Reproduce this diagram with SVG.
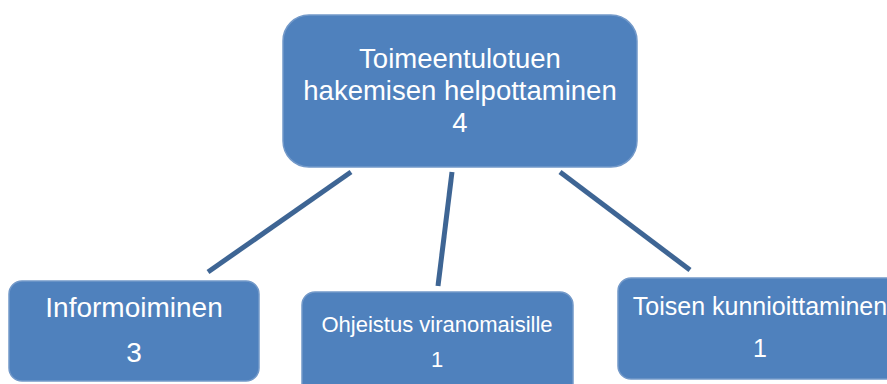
<svg xmlns="http://www.w3.org/2000/svg" width="887" height="384" viewBox="0 0 887 384">
<style>
.box{fill:#4F81BD;stroke:#7399C9;stroke-width:1.5}
.t{fill:#FFFFFF;font-family:"Liberation Sans",Arial,sans-serif;text-anchor:middle}
.c{stroke:#3E6594;stroke-width:5;fill:none}
</style>
<rect width="887" height="384" fill="#FFFFFF"/>
<g id="connectors">
<line class="c" x1="351" y1="172" x2="208" y2="272"/>
<line class="c" x1="452" y1="172" x2="438" y2="286"/>
<line class="c" x1="560" y1="172" x2="690" y2="270"/>
</g>
<g id="root">
<rect class="box" x="283" y="15" width="354" height="152" rx="26" ry="26"/>
<text class="t" x="460" y="68" font-size="27.5">Toimeentulotuen</text>
<text class="t" x="460" y="100" font-size="27.5">hakemisen helpottaminen</text>
<text class="t" x="460" y="132" font-size="27.5">4</text>
</g>
<g id="informoiminen">
<rect class="box" x="9" y="281" width="250" height="100" rx="13" ry="13"/>
<text class="t" x="134" y="317" font-size="28">Informoiminen</text>
<text class="t" x="134" y="362" font-size="28">3</text>
</g>
<g id="ohjeistus">
<rect class="box" x="302" y="292" width="271" height="110" rx="13" ry="13"/>
<text class="t" x="437" y="332" font-size="22">Ohjeistus viranomaisille</text>
<text class="t" x="437" y="367" font-size="22">1</text>
</g>
<g id="toisen">
<rect class="box" x="618" y="278" width="284" height="101" rx="13" ry="13"/>
<text class="t" x="760" y="315" font-size="25">Toisen kunnioittaminen</text>
<text class="t" x="760" y="357" font-size="25">1</text>
</g>
</svg>
